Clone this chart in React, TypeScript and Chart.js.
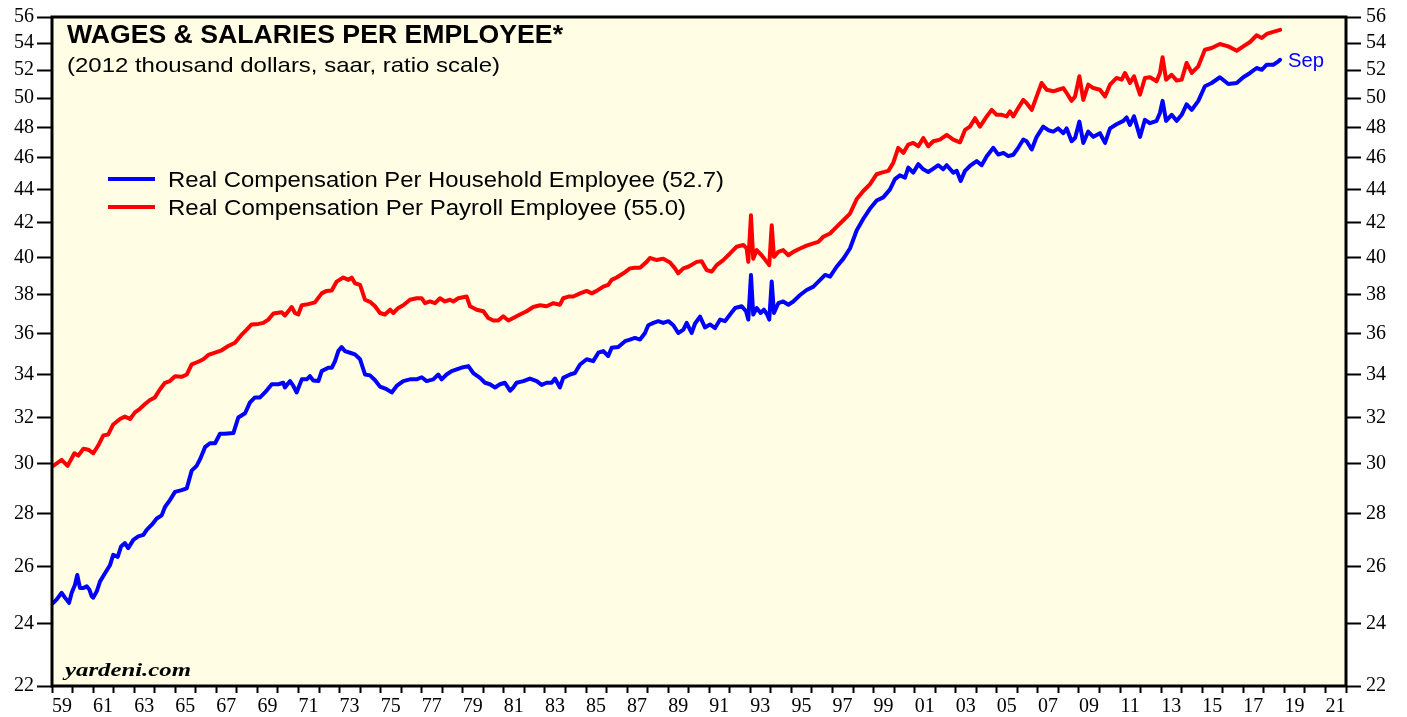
import React, { useEffect, useRef } from "react";
import { Chart, registerables } from "chart.js";

Chart.register(...registerables);

// ---------- DATA ----------
const householdYears = [
  1959.06, 1959.23, 1959.47, 1959.63, 1959.83, 1959.96, 1960.12, 1960.23, 1960.36, 1960.53,
  1960.69, 1960.82, 1960.93, 1961.01, 1961.18, 1961.34, 1961.58, 1961.82, 1961.98, 1962.2,
  1962.36, 1962.55, 1962.71, 1962.96, 1963.2, 1963.45, 1963.61, 1963.85, 1964.1, 1964.34,
  1964.5, 1964.74, 1964.99, 1965.31, 1965.56, 1965.8, 1966.04, 1966.21, 1966.45, 1966.69,
  1966.94, 1967.18, 1967.42, 1967.83, 1968.07, 1968.4, 1968.64, 1968.88, 1969.13, 1969.37,
  1969.7, 1970.02, 1970.26, 1970.34, 1970.59, 1970.75, 1970.91, 1971.16, 1971.4, 1971.56,
  1971.72, 1971.97, 1972.13, 1972.45, 1972.62, 1972.78, 1972.94, 1973.1, 1973.26, 1973.51,
  1973.75, 1974.0, 1974.24, 1974.48, 1974.73, 1974.97, 1975.29, 1975.54, 1975.78, 1976.1,
  1976.43, 1976.75, 1977.0, 1977.24, 1977.56, 1977.81, 1977.97, 1978.21, 1978.46, 1978.7,
  1979.02, 1979.27, 1979.51, 1979.84, 1980.08, 1980.32, 1980.57, 1980.81, 1981.05, 1981.3,
  1981.46, 1981.62, 1981.95, 1982.27, 1982.6, 1982.84, 1983.08, 1983.33, 1983.49, 1983.73,
  1983.89, 1984.22, 1984.46, 1984.71, 1985.03, 1985.35, 1985.6, 1985.84, 1986.08, 1986.25,
  1986.57, 1986.9, 1987.14, 1987.38, 1987.63, 1987.87, 1988.03, 1988.28, 1988.52, 1988.76,
  1989.01, 1989.25, 1989.49, 1989.74, 1989.9, 1990.14, 1990.31, 1990.55, 1990.79, 1991.04,
  1991.28, 1991.53, 1991.77, 1992.01, 1992.26, 1992.58, 1992.79, 1992.9, 1993.03, 1993.14,
  1993.31, 1993.5, 1993.66, 1993.82, 1993.92, 1994.04, 1994.15, 1994.36, 1994.6, 1994.85,
  1995.09, 1995.42, 1995.74, 1996.07, 1996.4, 1996.64, 1996.88, 1997.2, 1997.53, 1997.85,
  1998.18, 1998.5, 1998.82, 1999.15, 1999.47, 1999.8, 2000.04, 2000.28, 2000.53, 2000.69,
  2000.93, 2001.18, 2001.42, 2001.66, 2001.91, 2002.15, 2002.39, 2002.56, 2002.88, 2003.05,
  2003.24, 2003.45, 2003.69, 2004.02, 2004.26, 2004.51, 2004.83, 2005.07, 2005.32, 2005.56,
  2005.8, 2006.04, 2006.29, 2006.45, 2006.7, 2006.94, 2007.26, 2007.51, 2007.75, 2007.99,
  2008.24, 2008.4, 2008.64, 2008.81, 2009.02, 2009.21, 2009.45, 2009.7, 2010.02, 2010.27,
  2010.51, 2010.83, 2011.16, 2011.32, 2011.48, 2011.68, 2011.97, 2012.21, 2012.46, 2012.78,
  2012.94, 2013.07, 2013.24, 2013.51, 2013.76, 2014.0, 2014.24, 2014.49, 2014.81, 2015.13,
  2015.46, 2015.86, 2016.27, 2016.68, 2017.0, 2017.33, 2017.65, 2017.9, 2018.14, 2018.46,
  2018.71, 2018.79,
];
const householdValues = [
  24.71, 24.83, 25.06, 24.89, 24.71, 25.06, 25.34, 25.69, 25.23, 25.23,
  25.29, 25.17, 24.94, 24.89, 25.11, 25.46, 25.75, 26.04, 26.42, 26.35,
  26.73, 26.86, 26.67, 26.98, 27.11, 27.17, 27.36, 27.55, 27.8, 27.92,
  28.25, 28.52, 28.85, 28.92, 28.99, 29.72, 29.92, 30.2, 30.71, 30.88,
  30.88, 31.29, 31.29, 31.32, 32.01, 32.2, 32.69, 32.92, 32.92, 33.15,
  33.53, 33.53, 33.6, 33.38, 33.68, 33.45, 33.15, 33.76, 33.76, 33.91,
  33.71, 33.68, 34.15, 34.31, 34.31, 34.63, 35.12, 35.32, 35.12, 35.04,
  34.96, 34.72, 33.99, 33.95, 33.72, 33.42, 33.3, 33.15, 33.45, 33.68,
  33.76, 33.76, 33.86, 33.68, 33.76, 33.99, 33.76, 33.99, 34.15, 34.23,
  34.34, 34.39, 34.06, 33.83, 33.6, 33.53, 33.38, 33.53, 33.6, 33.23,
  33.38, 33.6, 33.68, 33.8, 33.68, 33.5, 33.6, 33.6, 33.8, 33.38,
  33.83, 33.99, 34.06, 34.47, 34.72, 34.63, 35.04, 35.12, 34.88, 35.28,
  35.32, 35.61, 35.69, 35.77, 35.69, 36.02, 36.41, 36.53, 36.62, 36.53,
  36.62, 36.41, 36.02, 36.19, 36.53, 36.02, 36.5, 36.85, 36.3, 36.45,
  36.27, 36.7, 36.62, 36.96, 37.3, 37.39, 37.13, 36.7, 39.06, 36.96,
  37.3, 37.04, 37.21, 36.96, 36.7, 38.7, 37.04, 37.55, 37.64, 37.47,
  37.64, 37.98, 38.25, 38.43, 38.79, 39.06, 38.97, 39.51, 39.96, 40.53,
  41.58, 42.25, 42.84, 43.34, 43.53, 44.02, 44.65, 44.89, 44.75, 45.38,
  45.06, 45.6, 45.27, 45.1, 45.31, 45.53, 45.27, 45.53, 45.06, 45.17,
  44.54, 45.17, 45.48, 45.79, 45.53, 46.11, 46.65, 46.21, 46.32, 46.11,
  46.2, 46.65, 47.19, 47.08, 46.54, 47.37, 48.05, 47.81, 47.72, 47.93,
  47.61, 47.93, 47.08, 47.29, 48.39, 46.97, 47.72, 47.37, 47.61, 46.97,
  47.93, 48.21, 48.44, 48.67, 48.16, 48.74, 47.37, 48.51, 48.28, 48.44,
  48.97, 49.81, 48.44, 48.85, 48.44, 48.85, 49.57, 49.19, 49.81, 50.84,
  51.07, 51.48, 51.0, 51.07, 51.48, 51.79, 52.15, 52.02, 52.39, 52.39,
  52.64, 52.75,
];

const payrollYears = [
  1959.06, 1959.47, 1959.76, 1960.09, 1960.28, 1960.53, 1960.77, 1961.01, 1961.25, 1961.5,
  1961.74, 1961.98, 1962.31, 1962.55, 1962.8, 1963.04, 1963.28, 1963.53, 1963.77, 1964.01,
  1964.26, 1964.5, 1964.74, 1964.99, 1965.31, 1965.56, 1965.8, 1966.12, 1966.37, 1966.61,
  1966.94, 1967.26, 1967.58, 1967.91, 1968.24, 1968.48, 1968.72, 1969.05, 1969.29, 1969.53,
  1969.78, 1970.18, 1970.34, 1970.67, 1970.83, 1970.99, 1971.16, 1971.48, 1971.8, 1972.13,
  1972.37, 1972.62, 1972.86, 1973.18, 1973.43, 1973.59, 1973.75, 1974.0, 1974.24, 1974.48,
  1974.73, 1974.97, 1975.21, 1975.46, 1975.62, 1975.86, 1976.1, 1976.43, 1976.75, 1977.0,
  1977.16, 1977.4, 1977.65, 1977.89, 1978.13, 1978.38, 1978.54, 1978.78, 1979.19, 1979.35,
  1979.68, 1980.0, 1980.24, 1980.49, 1980.73, 1980.97, 1981.22, 1981.46, 1981.78, 1982.11,
  1982.43, 1982.76, 1983.08, 1983.41, 1983.73, 1983.89, 1984.14, 1984.38, 1984.71, 1985.03,
  1985.28, 1985.52, 1985.84, 1986.08, 1986.25, 1986.49, 1986.82, 1987.14, 1987.38, 1987.63,
  1987.95, 1988.11, 1988.44, 1988.76, 1989.09, 1989.33, 1989.49, 1989.74, 1989.98, 1990.39,
  1990.63, 1990.87, 1991.12, 1991.36, 1991.68, 1992.01, 1992.33, 1992.66, 1992.82, 1992.9,
  1993.03, 1993.14, 1993.31, 1993.55, 1993.8, 1993.92, 1994.04, 1994.15, 1994.36, 1994.6,
  1994.85, 1995.09, 1995.42, 1995.74, 1996.07, 1996.31, 1996.55, 1996.88, 1997.2, 1997.53,
  1997.85, 1998.18, 1998.5, 1998.82, 1999.15, 1999.39, 1999.72, 1999.96, 2000.2, 2000.45,
  2000.69, 2000.93, 2001.18, 2001.42, 2001.66, 2001.91, 2002.23, 2002.56, 2002.88, 2003.21,
  2003.45, 2003.69, 2003.94, 2004.18, 2004.51, 2004.75, 2004.99, 2005.24, 2005.48, 2005.64,
  2005.8, 2006.04, 2006.29, 2006.45, 2006.7, 2006.94, 2007.18, 2007.43, 2007.75, 2007.99,
  2008.24, 2008.4, 2008.64, 2008.81, 2009.02, 2009.21, 2009.45, 2009.7, 2010.02, 2010.27,
  2010.51, 2010.83, 2011.08, 2011.24, 2011.48, 2011.68, 2011.97, 2012.21, 2012.46, 2012.78,
  2012.94, 2013.07, 2013.24, 2013.51, 2013.76, 2014.0, 2014.24, 2014.49, 2014.81, 2015.13,
  2015.46, 2015.86, 2016.27, 2016.68, 2017.0, 2017.33, 2017.65, 2017.9, 2018.14, 2018.46,
  2018.79,
];
const payrollValues = [
  29.92, 30.17, 29.92, 30.45, 30.35, 30.64, 30.6, 30.45, 30.78, 31.22,
  31.26, 31.7, 31.94, 32.05, 31.94, 32.24, 32.4, 32.62, 32.8, 32.92,
  33.3, 33.6, 33.68, 33.91, 33.88, 33.99, 34.47, 34.6, 34.72, 34.93,
  35.04, 35.16, 35.37, 35.53, 35.94, 36.19, 36.45, 36.48, 36.53, 36.7,
  37.01, 37.08, 36.91, 37.35, 37.04, 36.96, 37.44, 37.5, 37.59, 38.07,
  38.2, 38.22, 38.7, 38.92, 38.79, 38.92, 38.61, 38.52, 37.73, 37.62,
  37.39, 37.04, 36.96, 37.21, 37.04, 37.3, 37.44, 37.73, 37.81, 37.81,
  37.55, 37.64, 37.55, 37.81, 37.64, 37.73, 37.64, 37.81, 37.9, 37.39,
  37.21, 37.13, 36.78, 36.65, 36.65, 36.87, 36.65, 36.78, 36.96, 37.13,
  37.35, 37.44, 37.39, 37.55, 37.47, 37.81, 37.9, 37.9, 38.07, 38.2,
  38.07, 38.2, 38.43, 38.52, 38.79, 38.92, 39.15, 39.42, 39.46, 39.46,
  39.78, 40.0, 39.88, 39.96, 39.75, 39.42, 39.15, 39.42, 39.51, 39.78,
  39.82, 39.33, 39.24, 39.6, 39.88, 40.25, 40.63, 40.73, 40.53, 39.78,
  42.45, 39.96, 40.44, 40.15, 39.78, 39.6, 41.87, 40.06, 40.34, 40.44,
  40.15, 40.34, 40.53, 40.69, 40.82, 40.91, 41.2, 41.39, 41.77, 42.16,
  42.55, 43.43, 43.92, 44.33, 44.96, 45.06, 45.17, 45.69, 46.65, 46.32,
  46.86, 46.97, 46.75, 47.29, 46.75, 47.08, 47.19, 47.5, 47.19, 47.01,
  47.83, 48.05, 48.62, 48.05, 48.74, 49.19, 48.85, 48.85, 48.74, 49.08,
  48.74, 49.31, 49.88, 49.65, 49.19, 50.12, 51.07, 50.59, 50.48, 50.59,
  50.71, 50.36, 49.81, 50.12, 51.55, 49.88, 50.95, 50.71, 50.59, 50.12,
  50.95, 51.43, 51.31, 51.79, 51.07, 51.55, 50.24, 51.43, 51.48, 51.19,
  51.79, 52.94, 51.31, 51.66, 51.24, 51.31, 52.52, 51.79, 52.27, 53.5,
  53.63, 53.93, 53.75, 53.42, 53.75, 54.08, 54.59, 54.38, 54.69, 54.85,
  55.0,
];

const yTickValues = [22, 24, 26, 28, 30, 32, 34, 36, 38, 40, 42, 44, 46, 48, 50, 52, 54, 56];
const xStartYear = 1959;
const xEndYear = 2022;

const seriesLabels = [
  "Real Compensation Per Household Employee (52.7)",
  "Real Compensation Per Payroll Employee (55.0)",
];
const seriesColors = ["#0000FF", "#FF0000"];
const titleText = "WAGES & SALARIES PER EMPLOYEE*";
const subtitleText = "(2012 thousand dollars, saar, ratio scale)";
const sourceText = "yardeni.com";
const lastMonthText = "Sep";

const SANS = '"Liberation Sans", Arial, Helvetica, sans-serif';
const SERIF = '"Liberation Serif", "Times New Roman", serif';
const PLOT_BG = "#FFFEE4";

function drawFit(
  ctx: CanvasRenderingContext2D,
  text: string,
  x: number,
  y: number,
  font: string,
  width: number,
  color: string
) {
  ctx.save();
  ctx.font = font;
  ctx.fillStyle = color;
  ctx.textAlign = "left";
  ctx.textBaseline = "alphabetic";
  const w = ctx.measureText(text).width || 1;
  ctx.translate(x, y);
  ctx.scale(width / w, 1);
  ctx.fillText(text, 0, 0);
  ctx.restore();
}

const framePlugin = {
  id: "framePlugin",
  beforeDraw(chart: any) {
    const { ctx, chartArea } = chart;
    ctx.save();
    ctx.fillStyle = "#FFFFFF";
    ctx.fillRect(0, 0, chart.width, chart.height);
    ctx.fillStyle = PLOT_BG;
    ctx.fillRect(chartArea.left, chartArea.top, chartArea.right - chartArea.left, chartArea.bottom - chartArea.top);
    ctx.restore();
  },
  afterDraw(chart: any) {
    const { ctx, chartArea } = chart;
    ctx.save();
    ctx.strokeStyle = "#000";
    ctx.lineWidth = 3;
    ctx.strokeRect(chartArea.left, chartArea.top, chartArea.right - chartArea.left, chartArea.bottom - chartArea.top);
    ctx.restore();

    drawFit(ctx, titleText, 67, 43, `bold 25px ${SANS}`, 496, "#000");
    drawFit(ctx, subtitleText, 67, 72, `21px ${SANS}`, 433, "#000");

    const ds = chart.data.datasets;
    const legendY = [179, 207];
    for (let i = 0; i < ds.length; i++) {
      ctx.save();
      ctx.strokeStyle = ds[i].borderColor;
      ctx.lineWidth = 4;
      ctx.beginPath();
      ctx.moveTo(108, legendY[i]);
      ctx.lineTo(155, legendY[i]);
      ctx.stroke();
      ctx.restore();
    }
    drawFit(ctx, ds[0].label, 168, 187, `22px ${SANS}`, 556, "#000");
    drawFit(ctx, ds[1].label, 168, 215, `22px ${SANS}`, 518, "#000");

    drawFit(ctx, lastMonthText, 1288, 66.5, `20px ${SANS}`, 36, "#0000FF");
    drawFit(ctx, sourceText, 65, 676, `italic bold 19px ${SERIF}`, 126, "#000");
  },
};

function yAxis(position: "left" | "right", width: number) {
  return {
    type: "logarithmic" as const,
    position,
    min: 22,
    max: 56,
    afterBuildTicks: (scale: any) => {
      scale.ticks = yTickValues.map((v) => ({ value: v }));
    },
    afterFit: (scale: any) => {
      scale.width = width;
    },
    ticks: {
      autoSkip: false,
      color: "#000",
      padding: position === "left" ? 3 : 5,
      font: { family: SERIF, size: 20 },
      callback: (v: any) => String(v),
    },
    grid: {
      drawOnChartArea: false,
      drawTicks: true,
      tickLength: 15,
      tickWidth: 2,
      tickColor: "#000",
    },
    border: { display: false },
  };
}

export default function App() {
  const canvasRef = useRef<HTMLCanvasElement | null>(null);

  useEffect(() => {
    const canvas = canvasRef.current;
    if (!canvas) return;
    const years: number[] = [];
    for (let y = xStartYear; y <= xEndYear; y++) years.push(y);

    const chart = new Chart(canvas, {
      type: "line",
      data: {
        datasets: [
          {
            label: seriesLabels[0],
            data: householdYears.map((x, i) => ({ x, y: householdValues[i] })),
            borderColor: seriesColors[0],
            borderWidth: 4,
            pointRadius: 0,
            tension: 0,
            fill: false,
            borderJoinStyle: "round",
            borderCapStyle: "round",
            yAxisID: "y",
          },
          {
            label: seriesLabels[1],
            data: payrollYears.map((x, i) => ({ x, y: payrollValues[i] })),
            borderColor: seriesColors[1],
            borderWidth: 4,
            pointRadius: 0,
            tension: 0,
            fill: false,
            borderJoinStyle: "round",
            borderCapStyle: "round",
            yAxisID: "y",
          },
        ],
      },
      options: {
        responsive: false,
        maintainAspectRatio: false,
        animation: false,
        devicePixelRatio: 1,
        layout: { padding: { top: 14, left: 0, right: 0, bottom: 0 } },
        plugins: {
          legend: { display: false },
          tooltip: { enabled: false },
          title: { display: false },
        },
        scales: {
          x: {
            type: "linear",
            min: xStartYear,
            max: xEndYear,
            afterBuildTicks: (scale: any) => {
              scale.ticks = years.map((v) => ({ value: v }));
            },
            afterFit: (scale: any) => {
              scale.height = 31;
            },
            ticks: {
              autoSkip: false,
              maxRotation: 0,
              minRotation: 0,
              labelOffset: 10,
              padding: 2,
              color: "#000",
              font: { family: SERIF, size: 20 },
              callback: (v: any) => {
                const n = Math.round(Number(v));
                if (n % 2 === 0 || n >= xEndYear) return "";
                return String(n % 100).padStart(2, "0");
              },
            },
            grid: {
              drawOnChartArea: false,
              drawTicks: true,
              tickLength: 7,
              tickWidth: 2,
              tickColor: "#000",
            },
            border: { display: false },
          },
          y: yAxis("left", 52),
          y2: yAxis("right", 61),
        },
      } as any,
      plugins: [framePlugin],
    });
    return () => chart.destroy();
  }, []);

  return (
    <div style={{ position: "absolute", left: 0, top: 0, width: 1407, height: 717, background: "#fff" }}>
      <canvas ref={canvasRef} width={1407} height={717} style={{ display: "block", width: 1407, height: 717 }} />
    </div>
  );
}
